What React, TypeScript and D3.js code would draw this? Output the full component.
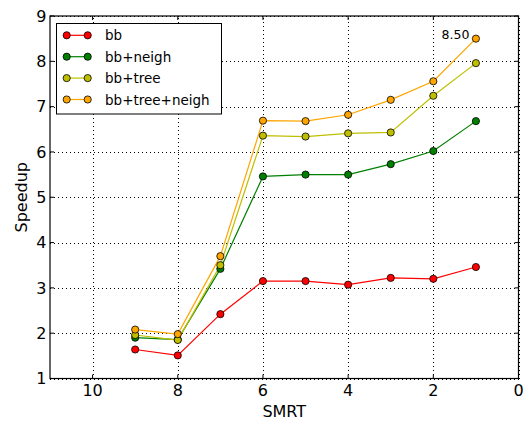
import { useRef, useEffect } from 'react';
import * as d3 from 'd3';

const W = 524;
const H = 423;
const M = { top: 16, right: 5.5, bottom: 44.5, left: 50 };

const smrt = [9, 8, 7, 6, 5, 4, 3, 2, 1];
const bb = [1.64, 1.51, 2.42, 3.15, 3.15, 3.07, 3.22, 3.2, 3.46];
const bbNeigh = [1.9, 1.86, 3.42, 5.46, 5.5, 5.5, 5.73, 6.02, 6.68];
const bbTree = [1.96, 1.85, 3.5, 6.36, 6.34, 6.41, 6.43, 7.24, 7.96];
const bbTreeNeigh = [2.08, 1.98, 3.7, 6.69, 6.68, 6.82, 7.15, 7.56, 8.5];

const seriesNames = ['bb', 'bb+neigh', 'bb+tree', 'bb+tree+neigh'];
const seriesColors = ['#ff0000', '#008000', '#bfbf00', '#ffa500'];
const seriesValues = [bb, bbNeigh, bbTree, bbTreeNeigh];

const xTicks = [10, 8, 6, 4, 2, 0];
const yTicks = [1, 2, 3, 4, 5, 6, 7, 8, 9];

export default function App() {
  const svgRef = useRef<SVGSVGElement>(null);

  useEffect(() => {
    if (!svgRef.current) return;
    const svg = d3.select(svgRef.current);
    svg.selectAll('*').remove();
    const font = '"DejaVu Sans", sans-serif';

    const x = d3.scaleLinear().domain([11, 0]).range([M.left, W - M.right]);
    const y = d3.scaleLinear().domain([1, 9]).range([H - M.bottom, M.top]);
    const x0 = x(11), x1 = x(0), y0 = y(1), y1 = y(9);

    svg.append('rect').attr('width', W).attr('height', H).attr('fill', '#fff');

    // grid
    const grid = svg.append('g').attr('stroke', '#000').attr('stroke-width', 1)
      .attr('stroke-dasharray', '1,3').attr('shape-rendering', 'crispEdges');
    xTicks.forEach(t => {
      grid.append('line').attr('x1', Math.round(x(t)) + 0.5).attr('x2', Math.round(x(t)) + 0.5)
        .attr('y1', y0).attr('y2', y1);
    });
    yTicks.forEach(t => {
      grid.append('line').attr('y1', Math.round(y(t)) + 0.5).attr('y2', Math.round(y(t)) + 0.5)
        .attr('x1', x0).attr('x2', x1);
    });

    // series
    const line = d3.line<number>().x((_, i) => x(smrt[i])).y(d => y(d));
    seriesValues.forEach((vals, k) => {
      svg.append('path').datum(vals).attr('d', line).attr('fill', 'none')
        .attr('stroke', seriesColors[k]).attr('stroke-width', 1.2);
    });
    seriesValues.forEach((vals, k) => {
      svg.append('g').selectAll('circle').data(vals).join('circle')
        .attr('cx', (_, i) => x(smrt[i])).attr('cy', d => y(d)).attr('r', 3.6)
        .attr('fill', seriesColors[k]).attr('stroke', '#000').attr('stroke-width', 0.8);
    });

    // annotation
    const last = bbTreeNeigh[bbTreeNeigh.length - 1];
    svg.append('text').attr('x', x(smrt[smrt.length - 1]) - 6.5).attr('y', y(last) + 0.7)
      .attr('text-anchor', 'end').attr('font-family', font).attr('font-size', 12.5)
      .text(last.toFixed(2));

    // frame
    svg.append('rect').attr('x', x0).attr('y', y1).attr('width', x1 - x0).attr('height', y0 - y1)
      .attr('fill', 'none').attr('stroke', '#000').attr('stroke-width', 1.2);

    // ticks (inside, all sides)
    const tk = svg.append('g').attr('stroke', '#000').attr('stroke-width', 1);
    xTicks.forEach(t => {
      tk.append('line').attr('x1', x(t)).attr('x2', x(t)).attr('y1', y0).attr('y2', y0 - 4);
      tk.append('line').attr('x1', x(t)).attr('x2', x(t)).attr('y1', y1).attr('y2', y1 + 4);
      svg.append('text').attr('x', x(t)).attr('y', y0 + 17.5).attr('text-anchor', 'middle')
        .attr('font-family', font).attr('font-size', 16).text(t);
    });
    yTicks.forEach(t => {
      tk.append('line').attr('x1', x0).attr('x2', x0 + 4).attr('y1', y(t)).attr('y2', y(t));
      tk.append('line').attr('x1', x1).attr('x2', x1 - 4).attr('y1', y(t)).attr('y2', y(t));
      svg.append('text').attr('x', x0 - 3.5).attr('y', y(t) + 5.8).attr('text-anchor', 'end')
        .attr('font-family', font).attr('font-size', 16).text(t);
    });

    // axis labels
    svg.append('text').attr('x', (x0 + x1) / 2).attr('y', 417).attr('text-anchor', 'middle')
      .attr('font-family', font).attr('font-size', 16).text('SMRT');
    svg.append('text').attr('transform', `translate(27,${(y0 + y1) / 2}) rotate(-90)`)
      .attr('text-anchor', 'middle').attr('font-family', font).attr('font-size', 16).text('Speedup');

    // legend
    const lg = svg.append('g').attr('transform', 'translate(56.5,23.5)');
    lg.append('rect').attr('width', 165).attr('height', 90.5).attr('fill', '#fff')
      .attr('stroke', '#000').attr('stroke-width', 1);
    seriesNames.forEach((name, k) => {
      const ly = 11.8 + k * 21.4;
      lg.append('line').attr('x1', 10.2).attr('x2', 31.2).attr('y1', ly).attr('y2', ly)
        .attr('stroke', seriesColors[k]).attr('stroke-width', 1.2);
      [10.2, 31.2].forEach(cx => {
        lg.append('circle').attr('cx', cx).attr('cy', ly).attr('r', 3.6)
          .attr('fill', seriesColors[k]).attr('stroke', '#000').attr('stroke-width', 0.8);
      });
      lg.append('text').attr('x', 48.5).attr('y', ly + 5).attr('font-family', font)
        .attr('font-size', 13.5).text(name);
    });
  }, []);

  return (
    <svg ref={svgRef} width={W} height={H}
      style={{ display: 'block', position: 'absolute', left: 0, top: 0 }} />
  );
}
